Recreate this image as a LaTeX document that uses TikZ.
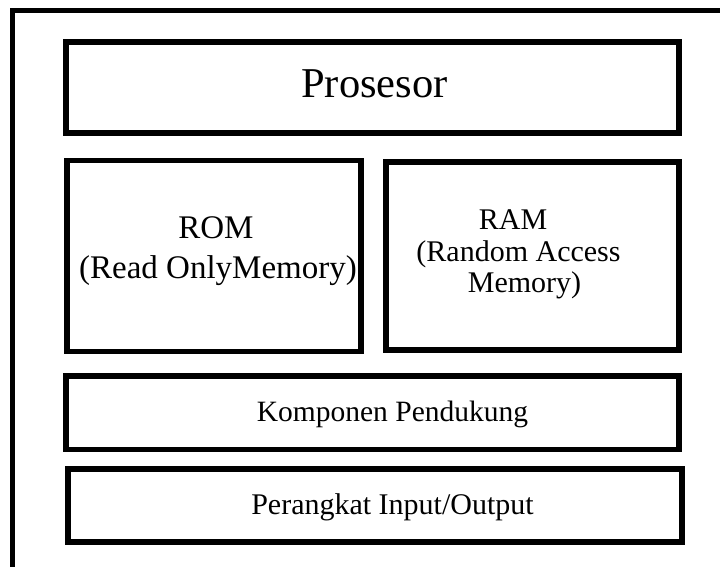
\documentclass[tikz,border=0pt]{standalone}
\usepackage{fontspec}
\setmainfont{Liberation Serif}
\begin{document}
\begin{tikzpicture}[x=1pt,y=-1pt,
  blk/.style={draw=black, line width=5.5pt, fill=none, inner sep=0pt},
  lbl/.style={inner sep=0pt, anchor=base, text=black}]
  % page area and clipping
  \useasboundingbox (0,0) rectangle (720,567);
  \clip (0,0) rectangle (720,567);
  % outer frame, running past the right and bottom edges
  \coordinate (fbl) at (12.5,600);
  \coordinate (ftl) at (12.5,10.5);
  \coordinate (ftr) at (760,10.5);
  \draw[line width=5pt] (fbl) -- (ftl) -- (ftr);
  % blocks
  \node[blk, minimum width=613pt, minimum height=91pt] (cpu) at (372.5,87.5) {};
  \node[blk, minimum width=294pt, minimum height=191pt] (rom) at (214,256) {};
  \node[blk, minimum width=293pt, minimum height=188pt] (ram) at (532.5,256) {};
  \node[blk, minimum width=613pt, minimum height=73.5pt] (sup) at (372.5,412.75) {};
  \node[blk, minimum width=614pt, minimum height=73pt] (io) at (375,505.5) {};
  % labels
  \node[lbl, font=\fontsize{42.5}{48}\selectfont] (tcpu) at (374.5,98) {Prosesor};
  \node[lbl, font=\fontsize{33}{38}\selectfont] (trom1) at (216,238) {ROM};
  \node[lbl, font=\fontsize{33}{38}\selectfont] (trom2) at (218,278) {(Read OnlyMemory)};
  \node[lbl, font=\fontsize{30}{34}\selectfont] (tram1) at (513,229) {RAM};
  \node[lbl, font=\fontsize{30}{34}\selectfont] (tram2) at (518.5,261) {(Random Access};
  \node[lbl, font=\fontsize{30}{34}\selectfont] (tram3) at (524.5,292) {Memory)};
  \node[lbl, font=\fontsize{29.5}{34}\selectfont] (tsup) at (392.5,421) {Komponen Pendukung};
  \node[lbl, font=\fontsize{30}{34}\selectfont] (tio) at (392.5,514) {Perangkat Input/Output};
\end{tikzpicture}
\end{document}
